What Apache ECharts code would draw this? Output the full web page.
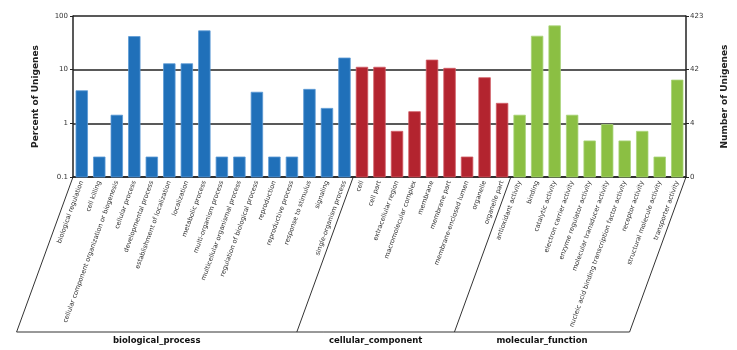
<!DOCTYPE html>
<html>
<head>
<meta charset="utf-8">
<script src="https://cdn.jsdelivr.net/npm/echarts@6/dist/echarts.min.js"></script>
<style>
html,body{margin:0;padding:0;background:#fff;}
#chart{width:737px;height:350px;}
</style>
</head>
<body>
<div id="chart"></div>
<script>
const bpCategories = ['biological regulation','cell killing','cellular component organization or biogenesis','cellular process','developmental process','establishment of localization','localization','metabolic process','multi-organism process','multicellular organismal process','regulation of biological process','reproduction','reproductive process','response to stimulus','signaling','single-organism process'];
const bpValues = [4.05,0.236,1.42,41.4,0.236,12.9,12.9,52.9,0.236,0.236,3.8,0.236,0.236,4.3,1.9,16.5];
const ccCategories = ['cell','cell part','extracellular region','macromolecular complex','membrane','membrane part','membrane-enclosed lumen','organelle','organelle part'];
const ccValues = [11.1,11.1,0.71,1.65,15.1,10.6,0.236,7.09,2.36];
const mfCategories = ['antioxidant activity','binding','catalytic activity','electron carrier activity','enzyme regulator activity','molecular transducer activity','nucleic acid binding transcription factor activity','receptor activity','structural molecule activity','transporter activity'];
const mfValues = [1.42,42.1,65.5,1.42,0.47,0.95,0.47,0.71,0.236,6.4];
const groupNames = ['biological_process','cellular_component','molecular_function'];
const groupColors = ['#2070b9','#b3242f','#8bbf43'];
const groupBorders = ['#5d9bd6','#d05a63','#aad47a'];
const leftTickValues = [0.1,1,10,100];
const rightTickLabels = ['0','4','42','423'];

const groups = [
  {cats: bpCategories, vals: bpValues},
  {cats: ccCategories, vals: ccValues},
  {cats: mfCategories, vals: mfValues}
];
const categories = [];
const seriesData = [];
const groupEdges = [0];
groups.forEach((g, gi) => {
  g.cats.forEach((c, i) => {
    seriesData.push({value: [categories.length, g.vals[i]], itemStyle: {color: groupColors[gi], borderColor: groupBorders[gi]}});
    categories.push(c);
  });
  groupEdges.push(categories.length);
});

const chart = echarts.init(document.getElementById('chart'), null, {renderer: 'canvas'});
const FONT = 'DejaVu Sans';
const option = {
  animation: false,
  grid: {left: 73, right: 46, top: 16, bottom: 173},
  xAxis: {
    type: 'category',
    data: categories,
    axisLine: {lineStyle: {color: '#222', width: 1.5}},
    axisTick: {show: false},
    axisLabel: {interval: 0, rotate: 70, fontSize: 6.5, color: '#333', fontFamily: FONT, margin: 4}
  },
  yAxis: [
    {
      type: 'log', logBase: 10, min: 0.1, max: 100,
      name: 'Percent of Unigenes', nameLocation: 'middle', nameGap: 33,
      nameTextStyle: {fontSize: 9, fontWeight: 'bold', fontFamily: FONT, color: '#222'},
      axisLine: {show: true, lineStyle: {color: '#222', width: 1.5}},
      axisTick: {show: true, length: 3, lineStyle: {color: '#222'}},
      axisLabel: {fontSize: 7, color: '#333', fontFamily: FONT, margin: 5,
        formatter: v => { const i = leftTickValues.findIndex(t => Math.abs(t - v) < 1e-9); return i >= 0 ? String(leftTickValues[i]) : ''; }},
      splitLine: {show: true, lineStyle: {color: '#222', width: 1.5}}
    },
    {
      type: 'log', logBase: 10, min: 0.1, max: 100, position: 'right',
      name: 'Number of Unigenes', nameLocation: 'middle', nameGap: 34, nameRotate: 90,
      nameTextStyle: {fontSize: 9, fontWeight: 'bold', fontFamily: FONT, color: '#222'},
      axisLine: {show: true, lineStyle: {color: '#222', width: 1.5}},
      axisTick: {show: true, length: 3, lineStyle: {color: '#222'}},
      axisLabel: {fontSize: 7, color: '#333', fontFamily: FONT, margin: 4,
        formatter: v => { const i = leftTickValues.findIndex(t => Math.abs(t - v) < 1e-9); return i >= 0 ? rightTickLabels[i] : ''; }},
      splitLine: {show: false}
    }
  ],
  series: [{
    type: 'custom',
    data: seriesData,
    encode: {x: 0, y: 1},
    renderItem: function (params, api) {
      const idx = api.value(0);
      const v = api.value(1);
      const top = api.coord([idx, v]);
      const base = api.coord([idx, 0.1]);
      const w = api.size([1, 1])[0] * 0.66;
      const st = api.style();
      return {
        type: 'rect',
        shape: {x: top[0] - w / 2, y: top[1], width: w, height: base[1] - top[1]},
        style: {fill: st.fill, stroke: api.visual('borderColor') || st.stroke, lineWidth: 0.8}
      };
    },
    itemStyle: {borderWidth: 0.8},
    z: 3
  }]
};
chart.setOption(option);

// group brackets under the category labels, positioned from the axis scales
const c0 = chart.convertToPixel({xAxisIndex: 0}, 0);
const c1 = chart.convertToPixel({xAxisIndex: 0}, 1);
const band = c1 - c0;
const axisY = chart.convertToPixel({yAxisIndex: 0}, 0.1);
const depth = 155;
const dx = depth / Math.tan(70 * Math.PI / 180);
const edgeX = groupEdges.map(i => c0 + (i - 0.5) * band);
const bottomY = axisY + depth;
const graphic = [];
edgeX.forEach(x => {
  graphic.push({type: 'line', shape: {x1: x, y1: axisY, x2: x - dx, y2: bottomY}, style: {stroke: '#333', lineWidth: 1}, silent: true});
});
graphic.push({type: 'line', shape: {x1: edgeX[0] - dx, y1: bottomY, x2: edgeX[edgeX.length - 1] - dx, y2: bottomY}, style: {stroke: '#333', lineWidth: 1}, silent: true});
groupNames.forEach((name, i) => {
  const mid = (edgeX[i] + edgeX[i + 1]) / 2 - dx;
  graphic.push({type: 'text', x: mid, y: bottomY + 9, style: {text: name, align: 'center', verticalAlign: 'middle', font: 'bold 8.5px "DejaVu Sans"', fill: '#111'}, silent: true});
});
chart.setOption({graphic: graphic});
</script>
</body>
</html>
